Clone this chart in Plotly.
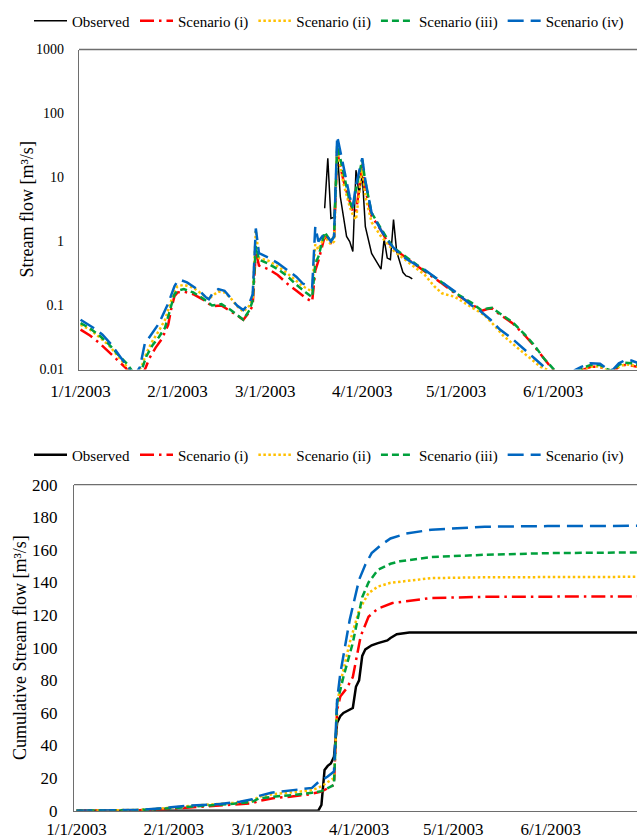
import pandas as pd
import plotly.graph_objects as go

START = pd.Timestamp("2003-01-01")

# ---------------- daily stream flow [m3/s]; day = days after 1 Jan 2003 ----------------
obs_day = [78, 79, 80, 81, 82, 83, 85, 86, 87, 88, 89, 90, 91, 93, 96, 97, 98, 99,
           100, 101, 103, 104, 105, 106]
obs_flow = [3.3, 20, 2.3, 2.4, 30, 5, 1.2, 1.0, 0.7, 13, 5.5, 11, 1.7, 0.65, 0.37, 1.1,
            0.55, 0.52, 2.2, 0.7, 0.33, 0.29, 0.28, 0.26]

s1_day = [0, 3, 6, 9, 12, 14.5, 16, 19, 20.5, 22, 24, 26, 28, 29, 30, 31, 33, 36, 39, 42,
          45, 48, 50, 52, 54, 55, 56, 57, 60, 63, 66, 69, 72, 74, 75, 76, 78, 80, 81, 82,
          84, 85.5, 87, 88, 90, 91, 93, 96, 98, 100, 103, 106, 110, 115, 120, 125, 128,
          130, 131.5, 134, 138, 142, 145, 148, 151, 153, 157, 159, 161, 163, 166, 168,
          170, 172, 174, 176, 178]
s1_flow = [0.042, 0.034, 0.026, 0.019, 0.014, 0.0105, 0.008, 0.008, 0.0098, 0.015, 0.022,
           0.03, 0.05, 0.09, 0.14, 0.16, 0.165, 0.15, 0.125, 0.098, 0.10, 0.082, 0.07,
           0.06, 0.08, 0.10, 0.7, 0.42, 0.37, 0.30, 0.22, 0.17, 0.13, 0.115, 0.35, 0.5,
           1.2, 0.95, 1.1, 25, 9, 5, 3.0, 2.8, 16, 6.5, 2.5, 1.5, 1.0, 0.78, 0.6, 0.47,
           0.34, 0.23, 0.15, 0.105, 0.082, 0.088, 0.09, 0.072, 0.053, 0.034, 0.023, 0.015,
           0.0098, 0.008, 0.008, 0.0092, 0.0102, 0.011, 0.011, 0.0098, 0.009, 0.011,
           0.0118, 0.0115, 0.011]

s2_day = [0, 3, 6, 9, 12, 15, 16.5, 18, 19.5, 21, 23, 25, 27, 29, 30, 31, 33, 36, 39, 41,
          42, 44, 46, 48, 50, 52, 54, 55, 56, 57, 60, 63, 66, 69, 71, 74, 75, 76, 78, 80,
          81, 82, 84, 86, 87, 88, 90, 91, 93, 96, 100, 103, 106, 110, 113, 115.5, 119.5,
          125, 129, 132, 135, 140, 144, 147, 149.5, 152, 157, 159, 161, 163, 166, 168,
          170, 172, 174, 176, 178]
s2_flow = [0.05, 0.042, 0.032, 0.024, 0.016, 0.0105, 0.0088, 0.009, 0.011, 0.018, 0.028,
           0.04, 0.06, 0.12, 0.17, 0.2, 0.21, 0.19, 0.15, 0.125, 0.14, 0.165, 0.16, 0.13,
           0.098, 0.08, 0.1, 0.13, 1.5, 0.55, 0.5, 0.41, 0.32, 0.24, 0.2, 0.165, 0.9, 0.75,
           1.2, 0.9, 1.0, 28, 8, 3.5, 2.6, 2.2, 14, 5, 2.0, 1.2, 0.72, 0.55, 0.42, 0.3,
           0.2, 0.155, 0.137, 0.095, 0.071, 0.05, 0.034, 0.021, 0.0145, 0.011, 0.0098,
           0.008, 0.008, 0.0092, 0.0102, 0.011, 0.0112, 0.0098, 0.009, 0.011, 0.012,
           0.0118, 0.011]

s3_day = [0, 3, 6, 9, 12, 15, 16.5, 18, 19.5, 21, 23, 25, 27, 29, 30, 31, 33, 36, 39, 42,
          45, 48, 50, 52, 54, 55, 56, 57, 60, 63, 66, 69, 72, 74, 75, 76, 78, 80, 81, 82,
          84, 86, 87, 88, 90, 91, 93, 96, 98, 100, 103, 106, 110, 115, 120, 125, 128, 130,
          131.5, 134, 138, 142, 145, 148, 151, 153, 157, 159, 161, 163, 166, 168, 170,
          172, 174, 176, 178]
s3_flow = [0.053, 0.044, 0.034, 0.025, 0.017, 0.012, 0.0095, 0.008, 0.0098, 0.016, 0.024,
           0.032, 0.045, 0.10, 0.15, 0.17, 0.18, 0.16, 0.13, 0.10, 0.105, 0.085, 0.072,
           0.06, 0.085, 0.12, 0.85, 0.52, 0.45, 0.37, 0.29, 0.21, 0.16, 0.135, 0.45, 0.58,
           1.4, 1.0, 1.2, 32, 12, 4.2, 3.3, 6.5, 19, 8.5, 2.8, 1.6, 1.1, 0.8, 0.62, 0.48,
           0.35, 0.24, 0.155, 0.11, 0.085, 0.09, 0.092, 0.075, 0.055, 0.035, 0.024, 0.015,
           0.01, 0.008, 0.008, 0.0095, 0.0108, 0.0118, 0.0118, 0.0102, 0.0095, 0.0118,
           0.0128, 0.0125, 0.0118]

s4_day = [0, 2, 5, 7, 10, 13, 15, 16, 18, 19, 20.5, 23, 25, 28, 30, 31, 32, 34, 36, 38,
          40, 41, 42, 44, 46, 48, 50, 52, 54, 55, 56, 57, 60, 63, 66, 69, 71, 74, 75, 76,
          78, 80, 81, 82, 84, 86, 87, 88, 90, 91, 93, 96, 98, 100, 103, 105, 110, 115, 120,
          125, 128, 131, 134, 138, 141, 145, 149, 152, 156, 158, 160, 163, 166, 168, 170,
          172, 174, 176, 178]
s4_flow = [0.060, 0.052, 0.042, 0.035, 0.024, 0.015, 0.011, 0.0095, 0.0092, 0.011, 0.025,
           0.038, 0.052, 0.108, 0.20, 0.24, 0.25, 0.23, 0.20, 0.17, 0.135, 0.125, 0.15,
           0.18, 0.17, 0.13, 0.10, 0.085, 0.11, 0.15, 1.6, 0.66, 0.56, 0.46, 0.36, 0.28,
           0.22, 0.19, 1.7, 1.0, 1.35, 1.0, 1.2, 44, 15, 5.0, 3.5, 7.6, 20, 9, 2.8, 1.5,
           1.05, 0.8, 0.58, 0.50, 0.36, 0.24, 0.16, 0.10, 0.08, 0.06, 0.042, 0.03, 0.0226,
           0.015, 0.01, 0.008, 0.008, 0.0098, 0.011, 0.0125, 0.0123, 0.0105, 0.0098, 0.0125,
           0.014, 0.0138, 0.0127]

# ---------------- cumulative stream flow [m3/s] ----------------
obs_cum_day = [0, 77, 78, 79, 80, 81, 82, 83, 84, 85, 88, 89, 90, 91, 92, 94, 96, 99, 100,
               102, 106, 180]
obs_cum = [0, 0, 3.5, 25, 27.5, 29, 33, 54, 58, 60, 63, 76, 80, 95, 99, 101.5, 102.8,
           104.5, 106, 108.3, 109.3, 109.3]

s1_cum_day = [0, 20, 30, 40, 50, 56, 58, 63, 68, 74, 78, 82, 83, 84, 86, 88, 90.5, 93, 96,
              100.6, 113, 130, 180]
s1_cum = [0, 0.3, 1.2, 2.3, 3.5, 4.5, 6, 7.8, 8.6, 10, 11.7, 15.8, 62, 70, 75, 82, 107,
          119, 124, 127.4, 130.5, 131.2, 131.5]

s2_cum_day = [0, 20, 25, 30, 40, 50, 56, 58, 62, 70, 75, 78, 82, 83, 84, 87, 90, 93, 96,
              100, 113, 130, 180]
s2_cum = [0, 0.5, 1.1, 2, 3.5, 4.8, 6, 8.5, 10, 11.5, 12.5, 15, 20, 64, 78, 103, 123,
          133.5, 137.5, 139.8, 142.7, 143.2, 143.5]

s3_cum_day = [0, 20, 30, 40, 50, 56, 58, 65, 69, 75, 78, 82, 83, 85, 88, 91, 93, 96, 100,
              103, 113, 130, 150, 180]
s3_cum = [0, 0.4, 1.5, 2.8, 4.3, 5.5, 7.5, 9, 9.6, 11, 12, 15.8, 66, 82, 103, 131, 140,
          147.8, 151.5, 153, 155.6, 157, 158, 158.5]

s4_cum_day = [0, 10, 20, 25, 30, 35, 45, 52, 56, 58, 62, 70, 75, 77, 80, 82, 83, 84, 85,
              87, 90, 92, 94, 97, 100, 105, 113, 130, 150, 180]
s4_cum = [0, 0.2, 0.5, 1.2, 2, 3, 4, 5.5, 7, 9, 11, 12.8, 14, 17.5, 21, 24, 68, 84, 95,
          117, 141.7, 151, 158, 163, 167, 170, 172.4, 174.2, 174.6, 174.8]

# ---------------- labels ----------------
names = ["Observed", "Scenario (i)", "Scenario (ii)", "Scenario (iii)", "Scenario (iv)"]
colors = ["#000000", "#FF0000", "#FFC000", "#00A03C", "#0066C0"]
dashes = ["solid", "14px,5px,2.5px,5px", "2.5px,2.5px", "7px,4px", "16px,7px"]
widths_top = [1.5, 2.5, 2.5, 2.5, 2.5]
widths_bot = [2.5, 2.5, 2.5, 2.5, 2.5]

month_ticks = ["2003-01-01", "2003-02-01", "2003-03-01", "2003-04-01", "2003-05-01",
               "2003-06-01"]
month_text = ["1/1/2003", "2/1/2003", "3/1/2003", "4/1/2003", "5/1/2003", "6/1/2003"]
log_ticks = [0.01, 0.1, 1, 10, 100, 1000]
log_text = ["0.01", "0.1", "1", "10", "100", "1000"]
cum_ticks = list(range(0, 201, 20))

FONT = "Liberation Serif"
AXIS_GREY = "#6e6e6e"
W, H = 637, 838


def to_dates(days):
    return [START + pd.Timedelta(days=d) for d in days]


top_series = [(obs_day, obs_flow), (s1_day, s1_flow), (s2_day, s2_flow),
              (s3_day, s3_flow), (s4_day, s4_flow)]
bot_series = [(obs_cum_day, obs_cum), (s1_cum_day, s1_cum), (s2_cum_day, s2_cum),
              (s3_cum_day, s3_cum), (s4_cum_day, s4_cum)]

fig = go.Figure()
for i, (d, v) in enumerate(top_series):
    fig.add_trace(go.Scatter(
        x=to_dates(d), y=v, mode="lines", name=names[i], legend="legend",
        line=dict(color=colors[i], dash=dashes[i], width=widths_top[i]),
        xaxis="x", yaxis="y", hoverinfo="skip"))
for i, (d, v) in enumerate(bot_series):
    fig.add_trace(go.Scatter(
        x=to_dates(d), y=v, mode="lines", name=names[i], legend="legend2",
        line=dict(color=colors[i], dash=dashes[i], width=widths_bot[i]),
        xaxis="x2", yaxis="y2", hoverinfo="skip"))

# plot-area geometry in pixels
top_px = (79, 49.5, 369.5)     # left, top, bottom
bot_px = (74, 484.7, 810.7)


def dom_y(t, b):
    return [1 - b / H, 1 - t / H]


axis_common = dict(showgrid=False, zeroline=False, showline=True, linecolor=AXIS_GREY,
                   linewidth=1.3, ticks="", color="black", automargin=False)

legend_common = dict(orientation="h", xref="container", yref="container", xanchor="left",
                     yanchor="middle", font=dict(size=15, family=FONT, color="black"),
                     bgcolor="rgba(0,0,0,0)", tracegroupgap=0, itemwidth=33)

fig.update_layout(
    width=W, height=H, margin=dict(l=0, r=0, t=0, b=0, autoexpand=False),
    paper_bgcolor="white", plot_bgcolor="white",
    font=dict(family=FONT, color="black"),
    xaxis=dict(**axis_common, type="date", domain=[top_px[0] / W, 1], anchor="y",
               range=[START - pd.Timedelta(hours=12), START + pd.Timedelta(days=177.8)],
               tickvals=month_ticks, ticktext=month_text,
               tickfont=dict(size=17, family=FONT, color="black"), ticklabelstandoff=6),
    yaxis=dict(**axis_common, type="log", domain=dom_y(top_px[1], top_px[2]), anchor="x",
               range=[-2, 3], tickvals=log_ticks, ticktext=log_text,
               tickfont=dict(size=14, family=FONT, color="black"), ticklabelstandoff=11),
    xaxis2=dict(**axis_common, type="date", domain=[bot_px[0] / W, 1], anchor="y2",
                range=[START - pd.Timedelta(hours=19), START + pd.Timedelta(days=178.5)],
                tickvals=month_ticks, ticktext=month_text,
                tickfont=dict(size=17, family=FONT, color="black"), ticklabelstandoff=3),
    yaxis2=dict(**axis_common, domain=dom_y(bot_px[1], bot_px[2]), anchor="x2",
                range=[0, 200], tickvals=cum_ticks,
                tickfont=dict(size=17, family=FONT, color="black"), ticklabelstandoff=12),
    legend=dict(**legend_common, x=29 / W, y=1 - 21 / H),
    legend2=dict(**legend_common, x=29 / W, y=1 - 455 / H),
    shapes=[
        dict(type="line", xref="x domain", yref="y domain", x0=0, x1=1, y0=1, y1=1,
             line=dict(color=AXIS_GREY, width=1.3)),
        dict(type="line", xref="x2 domain", yref="y2 domain", x0=0, x1=1, y0=1, y1=1,
             line=dict(color=AXIS_GREY, width=1.3)),
    ],
    annotations=[
        dict(text="Stream flow [m³/s]", textangle=-90, xref="paper", yref="paper",
             x=26 / W, y=1 - 209.5 / H, showarrow=False, xanchor="center",
             yanchor="middle", font=dict(size=18, family=FONT, color="black")),
        dict(text="Cumulative Stream flow [m³/s]", textangle=-90, xref="paper",
             yref="paper", x=20 / W, y=1 - 648 / H, showarrow=False, xanchor="center",
             yanchor="middle", font=dict(size=18, family=FONT, color="black")),
    ],
)

fig.write_html("out.html")
